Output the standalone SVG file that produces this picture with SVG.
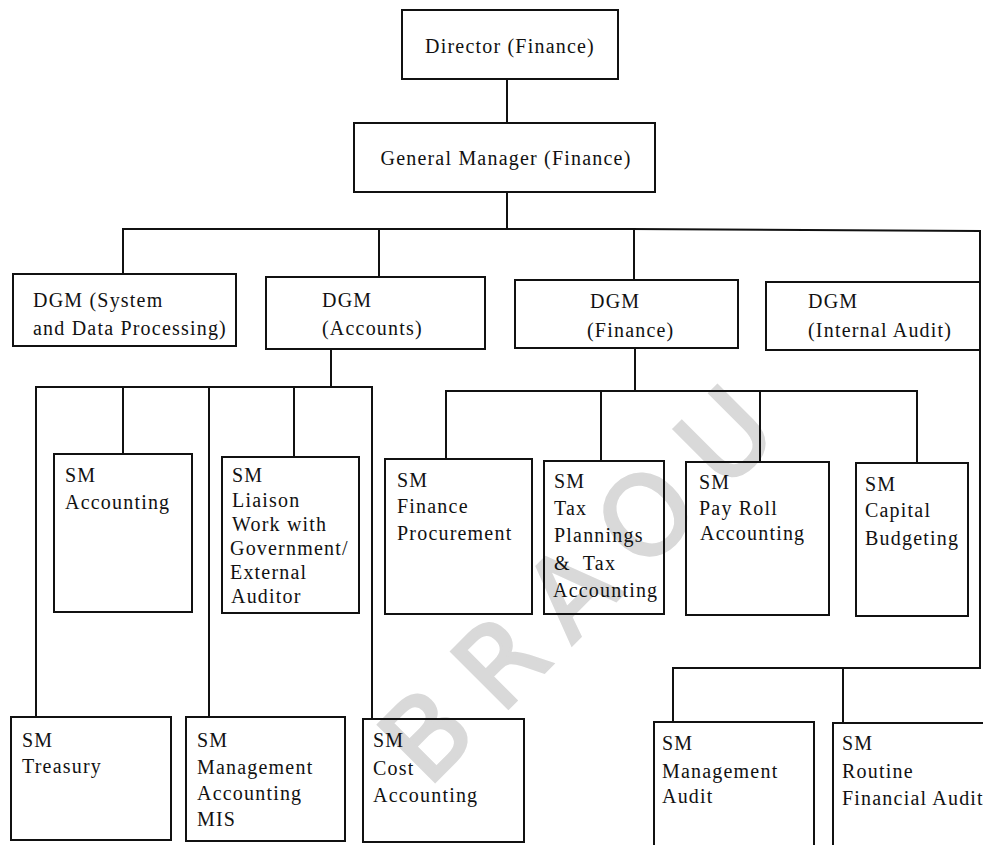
<svg xmlns="http://www.w3.org/2000/svg" width="983" height="845" viewBox="0 0 983 845">
<style>
  .bg { fill: #ffffff; }
  .box { fill: none; stroke: #111; stroke-width: 2; }
  .conn { fill: none; stroke: #111; stroke-width: 2; }
  text { font-family: "Liberation Serif", "Times New Roman", serif; font-size: 20px; letter-spacing: 1.2px; fill: #111; }
  .c { text-anchor: middle; }
  .wm { font-family: "DejaVu Sans", "Liberation Sans", sans-serif; font-size: 110px; letter-spacing: 28px; fill: #d9d9d9; stroke: #d9d9d9; stroke-width: 3; text-anchor: middle; }
</style>
<rect class="bg" x="0" y="0" width="983" height="845"/>
<text class="wm" transform="translate(576,584) rotate(-45)" x="14" y="40">BRAOU</text>

<g id="connectors">
  <path class="conn" d="M507,79 V123"/>
  <path class="conn" d="M507,192 V230"/>
  <path class="conn" d="M123,274 V229 H630 L980,231 V668 H673 V722"/>
  <path class="conn" d="M379,229 V277"/>
  <path class="conn" d="M634,230 V280"/>
  <path class="conn" d="M843,668 V723"/>
  <path class="conn" d="M331,349 V387"/>
  <path class="conn" d="M36,717 V387 H372 V719"/>
  <path class="conn" d="M123,387 V454"/>
  <path class="conn" d="M209,387 V717"/>
  <path class="conn" d="M294,387 V457"/>
  <path class="conn" d="M635,348 V391"/>
  <path class="conn" d="M446,459 V391 H917 V463"/>
  <path class="conn" d="M601,391 V461"/>
  <path class="conn" d="M760,391 V462"/>
</g>

<g id="director">
  <rect class="box" x="402" y="10" width="216" height="69"/>
  <text class="c" x="510" y="53">Director (Finance)</text>
</g>
<g id="general-manager">
  <rect class="box" x="354" y="123" width="301" height="69"/>
  <text class="c" x="506" y="165">General Manager (Finance)</text>
</g>

<g id="dgm-system">
  <rect class="box" x="13" y="274" width="223" height="72"/>
  <text x="33" y="307">DGM (System</text>
  <text x="33" y="335">and Data Processing)</text>
</g>
<g id="dgm-accounts">
  <rect class="box" x="266" y="277" width="219" height="72"/>
  <text x="322" y="307">DGM</text>
  <text x="322" y="335">(Accounts)</text>
</g>
<g id="dgm-finance">
  <rect class="box" x="515" y="280" width="223" height="68"/>
  <text x="590" y="308">DGM</text>
  <text x="587" y="337">(Finance)</text>
</g>
<g id="dgm-internal-audit">
  <rect class="box" x="766" y="282" width="214" height="68"/>
  <text x="808" y="308">DGM</text>
  <text x="808" y="337">(Internal Audit)</text>
</g>

<g id="sm-accounting">
  <rect class="box" x="54" y="454" width="138" height="158"/>
  <text x="65" y="482">SM</text>
  <text x="65" y="509">Accounting</text>
</g>
<g id="sm-liaison">
  <rect class="box" x="222" y="457" width="137" height="156"/>
  <text x="232" y="482">SM</text>
  <text x="232" y="507">Liaison</text>
  <text x="232" y="531">Work with</text>
  <text x="230" y="555">Government/</text>
  <text x="230" y="579">External</text>
  <text x="231" y="603">Auditor</text>
</g>
<g id="sm-finance-procurement">
  <rect class="box" x="385" y="459" width="147" height="155"/>
  <text x="397" y="487">SM</text>
  <text x="397" y="513">Finance</text>
  <text x="397" y="540">Procurement</text>
</g>
<g id="sm-tax">
  <rect class="box" x="544" y="461" width="120" height="153"/>
  <text x="554" y="488">SM</text>
  <text x="554" y="515">Tax</text>
  <text x="554" y="542">Plannings</text>
  <text x="554" y="570" xml:space="preserve">&amp;  Tax</text>
  <text x="553" y="597">Accounting</text>
</g>
<g id="sm-payroll">
  <rect class="box" x="686" y="462" width="143" height="153"/>
  <text x="699" y="489">SM</text>
  <text x="699" y="515">Pay Roll</text>
  <text x="700" y="540">Accounting</text>
</g>
<g id="sm-capital-budgeting">
  <rect class="box" x="856" y="463" width="112" height="153"/>
  <text x="865" y="491">SM</text>
  <text x="865" y="517">Capital</text>
  <text x="865" y="545">Budgeting</text>
</g>

<g id="sm-treasury">
  <rect class="box" x="11" y="717" width="160" height="123"/>
  <text x="22" y="747">SM</text>
  <text x="22" y="773">Treasury</text>
</g>
<g id="sm-management-accounting">
  <rect class="box" x="186" y="717" width="159" height="124"/>
  <text x="197" y="747">SM</text>
  <text x="197" y="774">Management</text>
  <text x="197" y="800">Accounting</text>
  <text x="197" y="826">MIS</text>
</g>
<g id="sm-cost-accounting">
  <rect class="box" x="363" y="719" width="161" height="123"/>
  <text x="373" y="747">SM</text>
  <text x="373" y="775">Cost</text>
  <text x="373" y="802">Accounting</text>
</g>
<g id="sm-management-audit">
  <rect class="box" x="654" y="722" width="160" height="128"/>
  <text x="662" y="750">SM</text>
  <text x="662" y="778">Management</text>
  <text x="662" y="803">Audit</text>
</g>
<g id="sm-routine-audit">
  <rect class="box" x="833" y="723" width="160" height="127"/>
  <text x="842" y="750">SM</text>
  <text x="842" y="778">Routine</text>
  <text x="842" y="805">Financial Audit</text>
</g>
</svg>
